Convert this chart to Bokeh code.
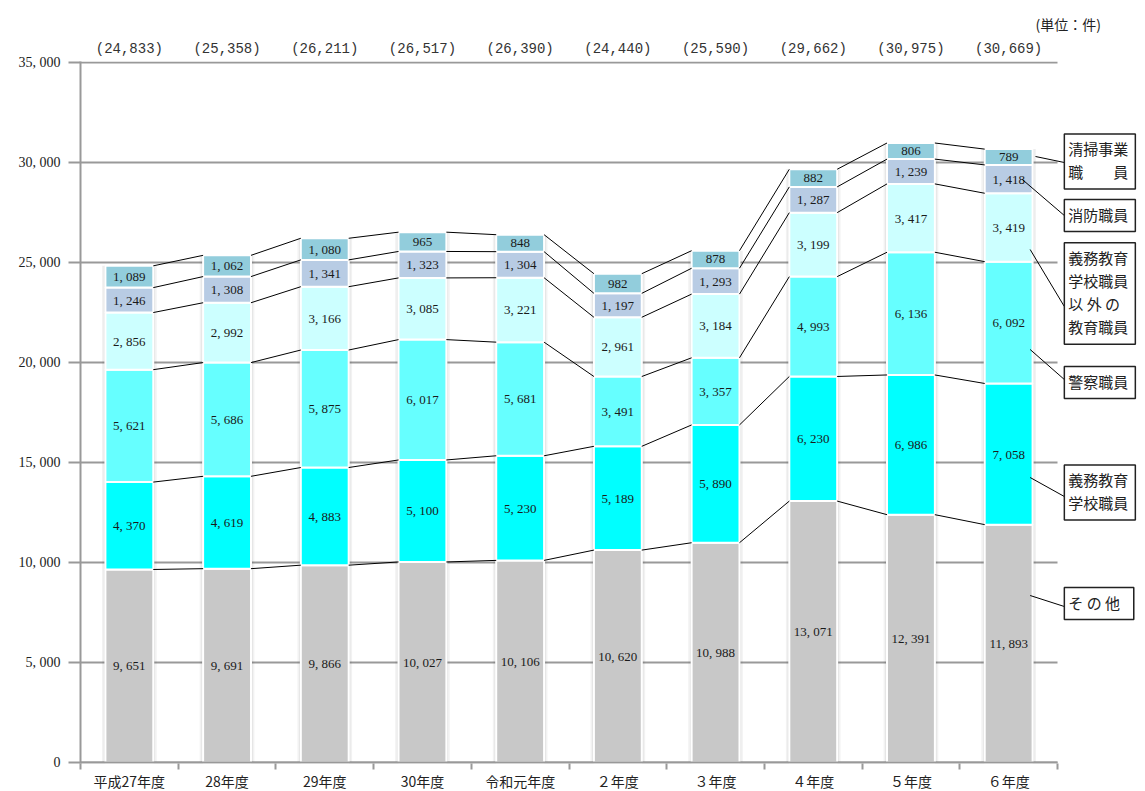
from bokeh.plotting import figure
from bokeh.models import Range1d, FixedTicker, LinearAxis, Label
from bokeh.embed import file_html
from bokeh.resources import INLINE

categories = ["平成27年度", "28年度", "29年度", "30年度", "令和元年度",
              "２年度", "３年度", "４年度", "５年度", "６年度"]
series_names = ["その他", "義務教育学校職員", "警察職員",
                "義務教育学校職員以外の教育職員", "消防職員", "清掃事業職員"]
other = [9651, 9691, 9866, 10027, 10106, 10620, 10988, 13071, 12391, 11893]
compulsory_school = [4370, 4619, 4883, 5100, 5230, 5189, 5890, 6230, 6986, 7058]
police = [5621, 5686, 5875, 6017, 5681, 3491, 3357, 4993, 6136, 6092]
other_education = [2856, 2992, 3166, 3085, 3221, 2961, 3184, 3199, 3417, 3419]
fire = [1246, 1308, 1341, 1323, 1304, 1197, 1293, 1287, 1239, 1418]
cleaning = [1089, 1062, 1080, 965, 848, 982, 878, 882, 806, 789]
totals = [24833, 25358, 26211, 26517, 26390, 24440, 25590, 29662, 30975, 30669]
y_ticks = [0, 5000, 10000, 15000, 20000, 25000, 30000, 35000]

series = [other, compulsory_school, police, other_education, fire, cleaning]
colors = ["#c8c8c8", "#00ffff", "#66ffff", "#ccffff", "#b8cce4", "#92cddc"]
legend_texts = ["そ  の  他", "義務教育\n学校職員", "警察職員",
                "義務教育\n学校職員\n以  外  の\n教育職員", "消防職員", "清掃事業\n職　　員"]

SERIF = "Liberation Serif"
CJK = "Noto Sans CJK JP"

n = len(categories)
xs = [i + 0.5 for i in range(n)]
BW = 0.49
PX_PER_CAT = 97.7
FRAME_W = 1065

p = figure(frame_width=FRAME_W, frame_height=702, output_backend="svg", toolbar_location=None,
           x_range=Range1d(0, FRAME_W / PX_PER_CAT), y_range=Range1d(-50, 35050),
           min_border_left=80, min_border_right=0, min_border_top=61, min_border_bottom=26,
           x_axis_type=None, y_axis_type=None, title="(単位：件)")
p.outline_line_color = None
p.xgrid.visible = False
p.ygrid.visible = False
p.title.text_font = CJK
p.title.text_font_size = "14px"
p.title.text_font_style = "normal"
p.title.text_color = "#222222"
p.title.align = "left"
p.title.offset = 955
p.title.standoff = 8

# y axis
yax = LinearAxis(ticker=FixedTicker(ticks=y_ticks, minor_ticks=[]))
yax.major_label_overrides = {t: (f"{t:,}".replace(",", ", ")) for t in y_ticks}
yax.major_label_text_font = SERIF
yax.major_label_text_font_size = "14px"
yax.major_label_text_color = "#222222"
yax.axis_line_color = "#999999"
yax.axis_line_width = 2
yax.major_tick_line_color = "#999999"
yax.major_tick_line_width = 2
yax.major_tick_out = 12
yax.major_tick_in = 0
yax.major_label_standoff = 8
p.add_layout(yax, "left")

# x axis (labels + boundary ticks; line drawn as a glyph below)
xax = LinearAxis(ticker=FixedTicker(ticks=xs, minor_ticks=list(range(n + 1))))
xax.major_label_overrides = {x: c for x, c in zip(xs, categories)}
xax.major_label_text_font = CJK
xax.major_label_text_font_size = "14px"
xax.major_label_text_color = "#222222"
xax.axis_line_color = None
xax.major_tick_line_color = None
xax.major_tick_out = 0
xax.major_tick_in = 0
xax.minor_tick_line_color = "#999999"
xax.minor_tick_line_width = 2
xax.minor_tick_out = 6
xax.minor_tick_in = 0
xax.major_label_standoff = 1
p.add_layout(xax, "below")

# totals above
tax = LinearAxis(ticker=FixedTicker(ticks=xs, minor_ticks=[]))
tax.major_label_overrides = {x: f"({t:,})" for x, t in zip(xs, totals)}
tax.major_label_text_font = "Liberation Mono"
tax.major_label_text_font_size = "14px"
tax.major_label_text_color = "#333333"
tax.axis_line_color = None
tax.major_tick_line_color = None
tax.major_tick_out = 0
tax.major_label_standoff = 5
p.add_layout(tax, "above")

# horizontal grid lines limited to the category area
p.segment(x0=[0] * len(y_ticks), x1=[n] * len(y_ticks), y0=y_ticks, y1=y_ticks,
          line_color="#999999", line_width=2)

# shadows
p.vbar(x=xs, bottom=0, top=totals, width=BW + 0.07, fill_color="#000000", fill_alpha=0.05, line_color=None)
p.vbar(x=xs, bottom=0, top=totals, width=BW + 0.035, fill_color="#000000", fill_alpha=0.07, line_color=None)

# stacked bars
bottoms = [0] * n
cums = []
for vals, col in zip(series, colors):
    tops = [b + v for b, v in zip(bottoms, vals)]
    p.vbar(x=xs, bottom=bottoms, top=tops, width=BW, fill_color=col,
           line_color="white", line_width=2)
    mids = [(b + t) / 2 for b, t in zip(bottoms, tops)]
    labels = [f"{v:,}".replace(",", ", ") for v in vals]
    p.text(x=xs, y=mids, text=labels, text_font={"value": SERIF}, text_font_size="13px",
           text_align="center", text_baseline="middle", text_color="#1a1a1a")
    cums.append(tops)
    bottoms = tops

# x axis line
p.segment(x0=[0], x1=[n], y0=[0], y1=[0], line_color="#999999", line_width=2)

# connecting lines
x0, y0, x1, y1 = [], [], [], []
for tops in cums:
    for i in range(n - 1):
        x0.append(xs[i] + BW / 2)
        y0.append(tops[i])
        x1.append(xs[i + 1] - BW / 2)
        y1.append(tops[i + 1])
p.segment(x0=x0, y0=y0, x1=x1, y1=y1, line_color="black", line_width=1)

# legend boxes with leader lines (series order bottom->top)
box_y = [7950, 13500, 19000, 23450, 27350, 30050]
lead_start = [(9.72, 8350), (9.72, 14250), (9.72, 20650), (9.72, 25650), (9.64, 29150), (9.775, 30300)]
lead_end_y = [7800, 13300, 19150, 22800, 27350, 30000]
BOX_X = 10.07
p.segment(x0=[s[0] for s in lead_start], y0=[s[1] for s in lead_start],
          x1=[BOX_X] * len(lead_start), y1=lead_end_y, line_color="black", line_width=1)
for txt, by in zip(legend_texts, box_y):
    p.add_layout(Label(x=BOX_X, y=by, text=txt, text_font=CJK, text_font_size="15px",
                       text_align="left", text_baseline="middle", text_color="#222222",
                       text_line_height=1.1,
                       border_line_color="#222222", border_line_width=1.5,
                       background_fill_color="white", padding=(4, 7, 4, 7)))

open("out.html", "w").write(file_html(p, INLINE))
